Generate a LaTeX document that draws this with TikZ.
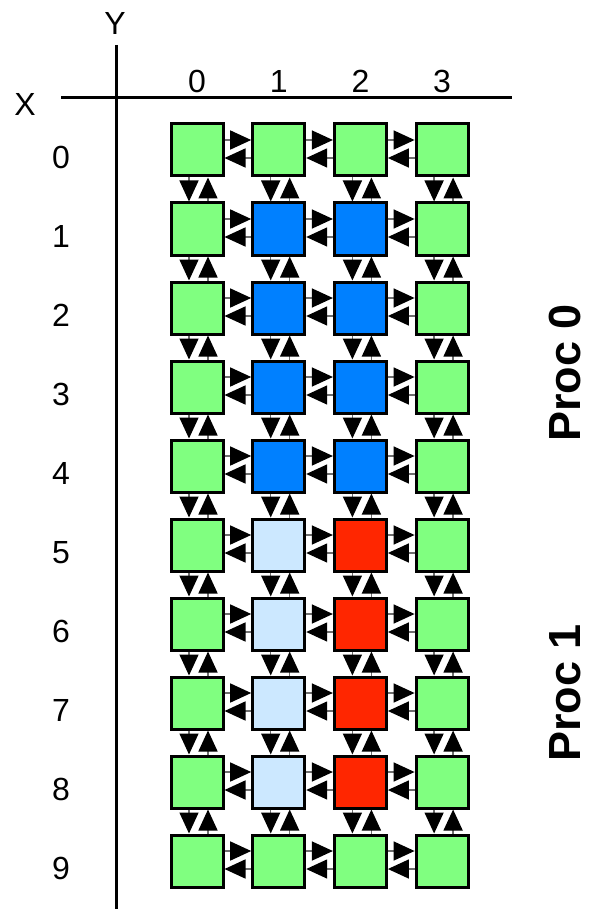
\documentclass[tikz,border=0pt]{standalone}
\usepackage{fontspec}
\setmainfont{Liberation Sans}
\usetikzlibrary{arrows.meta}

\definecolor{procgreen}{RGB}{128,255,128}
\definecolor{procblue}{RGB}{0,128,255}
\definecolor{ghostblue}{RGB}{204,232,255}
\definecolor{procred}{RGB}{255,38,0}
\definecolor{linkgray}{RGB}{110,110,110}

\tikzset{
  cell/.style={draw=black, line width=3pt, minimum size=52pt, inner sep=0pt},
  link/.style={draw=linkgray, line width=1.5pt,
    -{Triangle[length=21pt, width=19pt, black]}},
  axis/.style={line width=3pt},
  idx/.style={font=\fontsize{32}{36}\selectfont, inner sep=0pt},
  proc/.style={font=\fontsize{45}{50}\selectfont\bfseries, rotate=90, inner sep=0pt}
}

\begin{document}
\begin{tikzpicture}[x=1pt, y=-1pt]
\useasboundingbox (0,0) rectangle (590,909);

% --- Ejes ---
\coordinate (ytop) at (116,45);
\coordinate (ybot) at (116,909);
\coordinate (xleft) at (61,97.5);
\coordinate (xright) at (512,97.5);
\coordinate (colrow) at (0,81);
\draw[axis] (ytop) -- (ybot);
\draw[axis] (xleft) -- (xright);
\node[idx] (ylab) at (115,23) {Y};
\node[idx] (xlab) at (25,104) {X};

% --- Celdas ---
\foreach \r/\ca/\cb in {0/procgreen/procgreen, 1/procblue/procblue,
    2/procblue/procblue, 3/procblue/procblue, 4/procblue/procblue,
    5/ghostblue/procred, 6/ghostblue/procred, 7/ghostblue/procred,
    8/ghostblue/procred, 9/procgreen/procgreen}
{
  \node[cell, fill=procgreen] (c-\r-0) at (197,{150+79*\r}) {};
  \node[cell, fill=\ca] (c-\r-1) at (278.7,{150+79*\r}) {};
  \node[cell, fill=\cb] (c-\r-2) at (360.4,{150+79*\r}) {};
  \node[cell, fill=procgreen] (c-\r-3) at (442.1,{150+79*\r}) {};
  \node[idx] (row-\r) at (61,{157.5+79*\r}) {\r};
}

% Indices de columna
\foreach \c in {0,...,3}
  \node[idx] (col-\c) at (c-0-\c |- colrow) {\c};

% --- Enlaces horizontales ---
\foreach \r in {0,...,9}
  \foreach \c in {0,1,2}
  {
    \pgfmathtruncatemacro{\nc}{\c+1}
    \draw[link] ([yshift=10pt]c-\r-\c.east) -- ([yshift=10pt]c-\r-\nc.west);
    \draw[link] ([yshift=-8pt]c-\r-\nc.west) -- ([yshift=-8pt]c-\r-\c.east);
  }

% --- Enlaces verticales ---
\foreach \r in {0,...,8}
  \foreach \c in {0,...,3}
  {
    \pgfmathtruncatemacro{\nr}{\r+1}
    \draw[link] ([xshift=-8pt]c-\r-\c.south) -- ([xshift=-8pt]c-\nr-\c.north);
    \draw[link] ([xshift=11pt]c-\nr-\c.north) -- ([xshift=11pt]c-\r-\c.south);
  }

% --- Procesos ---
\node[proc] (proc0) at (565,373) {Proc 0};
\node[proc] (proc1) at (565,693) {Proc 1};

\end{tikzpicture}
\end{document}
